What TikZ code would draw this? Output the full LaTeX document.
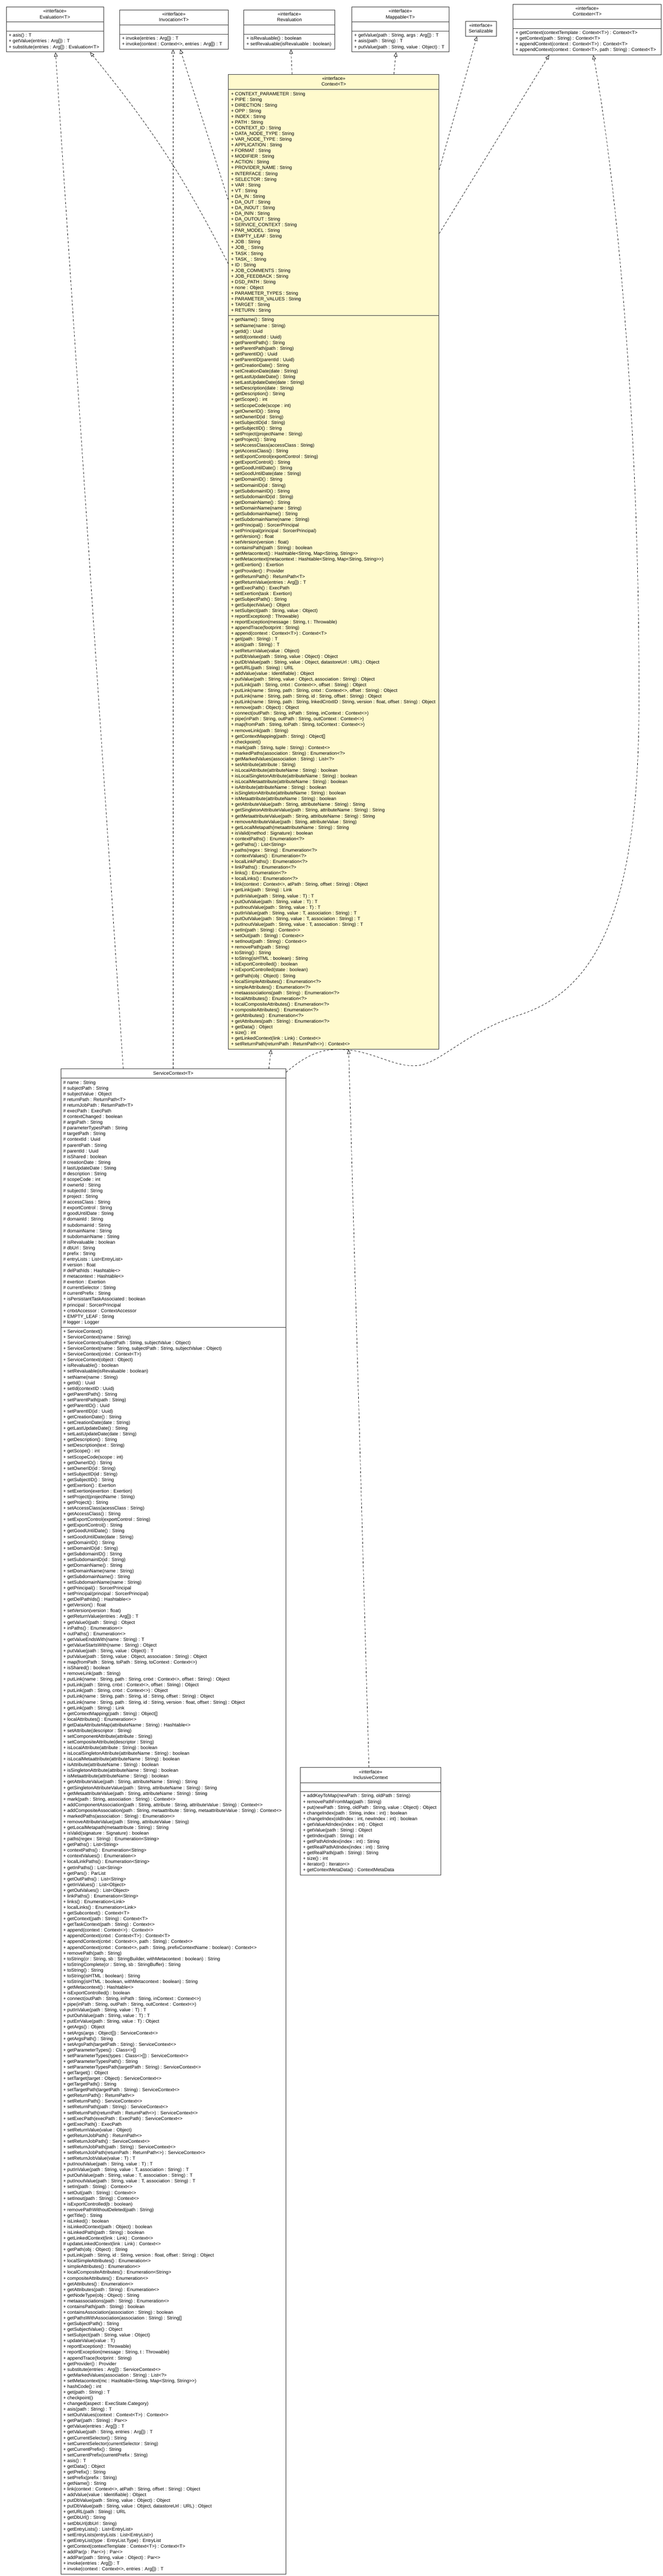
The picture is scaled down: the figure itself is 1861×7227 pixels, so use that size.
\documentclass[tikz,border=0pt]{standalone}
\usepackage{fontspec}
\newfontfamily\umlfont{Liberation Sans}
\usetikzlibrary{shapes.multipart, arrows.meta, positioning}
\definecolor{contextYellow}{RGB}{255, 250, 205}
\definecolor{borderGrey}{RGB}{60, 60, 60}
\newcommand{\umltext}{\umlfont\fontsize{13.2}{16}\selectfont}
\newcommand{\umlhead}[1]{\begin{tabular}{@{}c@{}}#1\end{tabular}}
\newcommand{\umlrows}[1]{\begin{tabular}{@{}l@{}}#1\end{tabular}}
\tikzset{
    % Base class box (header / attributes / operations)
    umlBox/.style={
        rectangle split,
        rectangle split parts=3,
        rectangle split part align={center, left, left},
        rectangle split empty part height=15pt,
        draw=borderGrey,
        line width=1.4pt,
        fill=white,
        inner xsep=7pt,
        inner ysep=4.5pt,
        anchor=north west,
        font=\umltext
    },
    % Specific box styles
    contextBox/.style={umlBox, fill=contextYellow},
    markerBox/.style={rectangle, draw=borderGrey, line width=1.4pt, fill=white,
        inner sep=0pt, anchor=north west, font=\umltext},
    % Realization connector
    realize/.style={line width=1pt, dash pattern=on 6pt off 5pt,
        -{Triangle[length=12pt, width=10pt, fill=white]}}
}

\begin{document}
\begin{tikzpicture}[x=1pt, y=-1pt]

    \useasboundingbox (0,0) rectangle (1861,7227);

    % --- TOP ROW (interfaces) ---

    % 1. Evaluation
    \node (evaluation) [umlBox, minimum width=273] at (17,19) {
        \umlhead{«interface»\\Evaluation<T>}
        \nodepart{two}\nodepart{three}
        \umlrows{+ asis() : T\\
        + getValue(entries : Arg[]) : T\\
        + substitute(entries : Arg[]) : Evaluation<T>}
    };

    % 2. Invocation
    \node (invocation) [umlBox, minimum width=305] at (335,27) {
        \umlhead{«interface»\\Invocation<T>}
        \nodepart{two}\nodepart{three}
        \umlrows{+ invoke(entries : Arg[]) : T\\
        + invoke(context : Context<>, entries : Arg[]) : T}
    };

    % 3. Revaluation
    \node (revaluation) [umlBox, minimum width=256] at (684,27) {
        \umlhead{«interface»\\Revaluation}
        \nodepart{two}\nodepart{three}
        \umlrows{+ isRevaluable() : boolean\\
        + setRevaluable(isRevaluable : boolean)}
    };

    % 4. Mappable
    \node (mappable) [umlBox, minimum width=273] at (987,19) {
        \umlhead{«interface»\\Mappable<T>}
        \nodepart{two}\nodepart{three}
        \umlrows{+ getValue(path : String, args : Arg[]) : T\\
        + asis(path : String) : T\\
        + putValue(path : String, value : Object) : T}
    };

    % 5. Serializable
    \node (serializable) [markerBox, minimum width=87, minimum height=42] at (1306,59) {
        \umlhead{«interface»\\Serializable}
    };

    % 6. Contexter
    \node (contexter) [umlBox, minimum width=416] at (1440,11) {
        \umlhead{«interface»\\Contexter<T>}
        \nodepart{two}\nodepart{three}
        \umlrows{+ getContext(contextTemplate : Context<T>) : Context<T>\\
        + getContext(path : String) : Context<T>\\
        + appendContext(context : Context<T>) : Context<T>\\
        + appendContext(context : Context<T>, path : String) : Context<T>}
    };

    % --- CENTRE (Context interface) ---
    \node (context) [contextBox, minimum width=591] at (641,208) {
        \umlhead{«interface»\\Context<T>}
        \nodepart{two}
        \umlrows{+ CONTEXT\_PARAMETER : String\\
        + PIPE : String\\
        + DIRECTION : String\\
        + OPP : String\\
        + INDEX : String\\
        + PATH : String\\
        + CONTEXT\_ID : String\\
        + DATA\_NODE\_TYPE : String\\
        + VAR\_NODE\_TYPE : String\\
        + APPLICATION : String\\
        + FORMAT : String\\
        + MODIFIER : String\\
        + ACTION : String\\
        + PROVIDER\_NAME : String\\
        + INTERFACE : String\\
        + SELECTOR : String\\
        + VAR : String\\
        + VT : String\\
        + DA\_IN : String\\
        + DA\_OUT : String\\
        + DA\_INOUT : String\\
        + DA\_ININ : String\\
        + DA\_OUTOUT : String\\
        + SERVICE\_CONTEXT : String\\
        + PAR\_MODEL : String\\
        + EMPTY\_LEAF : String\\
        + JOB : String\\
        + JOB\_ : String\\
        + TASK : String\\
        + TASK\_ : String\\
        + ID : String\\
        + JOB\_COMMENTS : String\\
        + JOB\_FEEDBACK : String\\
        + DSD\_PATH : String\\
        + none : Object\\
        + PARAMETER\_TYPES : String\\
        + PARAMETER\_VALUES : String\\
        + TARGET : String\\
        + RETURN : String}
        \nodepart{three}
        \umlrows{+ getName() : String\\
        + setName(name : String)\\
        + getId() : Uuid\\
        + setId(contextId : Uuid)\\
        + getParentPath() : String\\
        + setParentPath(path : String)\\
        + getParentID() : Uuid\\
        + setParentID(parentId : Uuid)\\
        + getCreationDate() : String\\
        + setCreationDate(date : String)\\
        + getLastUpdateDate() : String\\
        + setLastUpdateDate(date : String)\\
        + setDescription(date : String)\\
        + getDescription() : String\\
        + getScope() : int\\
        + setScopeCode(scope : int)\\
        + getOwnerID() : String\\
        + setOwnerID(id : String)\\
        + setSubjectID(id : String)\\
        + getSubjectID() : String\\
        + setProject(projectName : String)\\
        + getProject() : String\\
        + setAccessClass(accessClass : String)\\
        + getAccessClass() : String\\
        + setExportControl(exportControl : String)\\
        + getExportControl() : String\\
        + getGoodUntilDate() : String\\
        + setGoodUntilDate(date : String)\\
        + getDomainID() : String\\
        + setDomainID(id : String)\\
        + getSubdomainID() : String\\
        + setSubdomainID(id : String)\\
        + getDomainName() : String\\
        + setDomainName(name : String)\\
        + getSubdomainName() : String\\
        + setSubdomainName(name : String)\\
        + getPrincipal() : SorcerPrincipal\\
        + setPrincipal(principal : SorcerPrincipal)\\
        + getVersion() : float\\
        + setVersion(version : float)\\
        + containsPath(path : String) : boolean\\
        + getMetacontext() : Hashtable<String, Map<String, String>>\\
        + setMetacontext(metacontext : Hashtable<String, Map<String, String>>)\\
        + getExertion() : Exertion\\
        + getProvider() : Provider\\
        + getReturnPath() : ReturnPath<T>\\
        + getReturnValue(entries : Arg[]) : T\\
        + getExecPath() : ExecPath\\
        + setExertion(task : Exertion)\\
        + getSubjectPath() : String\\
        + getSubjectValue() : Object\\
        + setSubject(path : String, value : Object)\\
        + reportException(t : Throwable)\\
        + reportException(message : String, t : Throwable)\\
        + appendTrace(footprint : String)\\
        + append(context : Context<T>) : Context<T>\\
        + get(path : String) : T\\
        + asis(path : String) : T\\
        + setReturnValue(value : Object)\\
        + putDbValue(path : String, value : Object) : Object\\
        + putDbValue(path : String, value : Object, datastoreUrl : URL) : Object\\
        + getURL(path : String) : URL\\
        + addValue(value : Identifiable) : Object\\
        + putValue(path : String, value : Object, association : String) : Object\\
        + putLink(path : String, cntxt : Context<>, offset : String) : Object\\
        + putLink(name : String, path : String, cntxt : Context<>, offset : String) : Object\\
        + putLink(name : String, path : String, id : String, offset : String) : Object\\
        + putLink(name : String, path : String, lnkedCntxtID : String, version : float, offset : String) : Object\\
        + remove(path : Object) : Object\\
        + connect(outPath : String, inPath : String, inContext : Context<>)\\
        + pipe(inPath : String, outPath : String, outContext : Context<>)\\
        + map(fromPath : String, toPath : String, toContext : Context<>)\\
        + removeLink(path : String)\\
        + getContextMapping(path : String) : Object[]\\
        + checkpoint()\\
        + mark(path : String, tuple : String) : Context<>\\
        + markedPaths(association : String) : Enumeration<?>\\
        + getMarkedValues(association : String) : List<?>\\
        + setAttribute(attribute : String)\\
        + isLocalAttribute(attributeName : String) : boolean\\
        + isLocalSingletonAttribute(attributeName : String) : boolean\\
        + isLocalMetaattribute(attributeName : String) : boolean\\
        + isAttribute(attributeName : String) : boolean\\
        + isSingletonAttribute(attributeName : String) : boolean\\
        + isMetaattribute(attributeName : String) : boolean\\
        + getAttributeValue(path : String, attributeName : String) : String\\
        + getSingletonAttributeValue(path : String, attributeName : String) : String\\
        + getMetaattributeValue(path : String, attributeName : String) : String\\
        + removeAttributeValue(path : String, attributeValue : String)\\
        + getLocalMetapath(metaattributeName : String) : String\\
        + isValid(method : Signature) : boolean\\
        + contextPaths() : Enumeration<?>\\
        + getPaths() : List<String>\\
        + paths(regex : String) : Enumeration<?>\\
        + contextValues() : Enumeration<?>\\
        + localLinkPaths() : Enumeration<?>\\
        + linkPaths() : Enumeration<?>\\
        + links() : Enumeration<?>\\
        + localLinks() : Enumeration<?>\\
        + link(context : Context<>, atPath : String, offset : String) : Object\\
        + getLink(path : String) : Link\\
        + putInValue(path : String, value : T) : T\\
        + putOutValue(path : String, value : T) : T\\
        + putInoutValue(path : String, value : T) : T\\
        + putInValue(path : String, value : T, association : String) : T\\
        + putOutValue(path : String, value : T, association : String) : T\\
        + putInoutValue(path : String, value : T, association : String) : T\\
        + setIn(path : String) : Context<>\\
        + setOut(path : String) : Context<>\\
        + setInout(path : String) : Context<>\\
        + removePath(path : String)\\
        + toString() : String\\
        + toString(isHTML : boolean) : String\\
        + isExportControlled() : boolean\\
        + isExportControlled(state : boolean)\\
        + getPath(obj : Object) : String\\
        + localSimpleAttributes() : Enumeration<?>\\
        + simpleAttributes() : Enumeration<?>\\
        + metaassociations(path : String) : Enumeration<?>\\
        + localAttributes() : Enumeration<?>\\
        + localCompositeAttributes() : Enumeration<?>\\
        + compositeAttributes() : Enumeration<?>\\
        + getAttributes() : Enumeration<?>\\
        + getAttributes(path : String) : Enumeration<?>\\
        + getData() : Object\\
        + size() : int\\
        + getLinkedContext(link : Link) : Context<>\\
        + setReturnPath(returnPath : ReturnPath<>) : Context<>}
    };

    % --- BOTTOM LEFT (implementation) ---
    \node (serviceContext) [umlBox, minimum width=632] at (170,2998) {
        \umlhead{ServiceContext<T>}
        \nodepart{two}
        \umlrows{\# name : String\\
        \# subjectPath : String\\
        \# subjectValue : Object\\
        \# returnPath : ReturnPath<T>\\
        \# returnJobPath : ReturnPath<T>\\
        \# execPath : ExecPath\\
        \# contextChanged : boolean\\
        \# argsPath : String\\
        \# parameterTypesPath : String\\
        \# targetPath : String\\
        \# contextId : Uuid\\
        \# parentPath : String\\
        \# parentId : Uuid\\
        \# isShared : boolean\\
        \# creationDate : String\\
        \# lastUpdateDate : String\\
        \# description : String\\
        \# scopeCode : int\\
        \# ownerId : String\\
        \# subjectId : String\\
        \# project : String\\
        \# accessClass : String\\
        \# exportControl : String\\
        \# goodUntilDate : String\\
        \# domainId : String\\
        \# subdomainId : String\\
        \# domainName : String\\
        \# subdomainName : String\\
        \# isRevaluable : boolean\\
        \# dbUrl : String\\
        \# prefix : String\\
        \# entryLists : List<EntryList>\\
        \# version : float\\
        \# delPathIds : Hashtable<>\\
        \# metacontext : Hashtable<>\\
        \# exertion : Exertion\\
        \# currentSelector : String\\
        \# currentPrefix : String\\
        + isPersistantTaskAssociated : boolean\\
        \# principal : SorcerPrincipal\\
        + cntxtAccessor : ContextAccessor\\
        + EMPTY\_LEAF : String\\
        \# logger : Logger}
        \nodepart{three}
        \umlrows{+ ServiceContext()\\
        + ServiceContext(name : String)\\
        + ServiceContext(subjectPath : String, subjectValue : Object)\\
        + ServiceContext(name : String, subjectPath : String, subjectValue : Object)\\
        + ServiceContext(cntxt : Context<T>)\\
        + ServiceContext(object : Object)\\
        + isRevaluable() : boolean\\
        + setRevaluable(isRevaluable : boolean)\\
        + setName(name : String)\\
        + getId() : Uuid\\
        + setId(contextID : Uuid)\\
        + getParentPath() : String\\
        + setParentPath(path : String)\\
        + getParentID() : Uuid\\
        + setParentID(id : Uuid)\\
        + getCreationDate() : String\\
        + setCreationDate(date : String)\\
        + getLastUpdateDate() : String\\
        + setLastUpdateDate(date : String)\\
        + getDescription() : String\\
        + setDescription(text : String)\\
        + getScope() : int\\
        + setScopeCode(scope : int)\\
        + getOwnerID() : String\\
        + setOwnerID(id : String)\\
        + setSubjectID(id : String)\\
        + getSubjectID() : String\\
        + getExertion() : Exertion\\
        + setExertion(exertion : Exertion)\\
        + setProject(projectName : String)\\
        + getProject() : String\\
        + setAccessClass(acessClass : String)\\
        + getAccessClass() : String\\
        + setExportControl(exportControl : String)\\
        + getExportControl() : String\\
        + getGoodUntilDate() : String\\
        + setGoodUntilDate(date : String)\\
        + getDomainID() : String\\
        + setDomainID(id : String)\\
        + getSubdomainID() : String\\
        + setSubdomainID(id : String)\\
        + getDomainName() : String\\
        + setDomainName(name : String)\\
        + getSubdomainName() : String\\
        + setSubdomainName(name : String)\\
        + getPrincipal() : SorcerPrincipal\\
        + setPrincipal(principal : SorcerPrincipal)\\
        + getDelPathIds() : Hashtable<>\\
        + getVersion() : float\\
        + setVersion(version : float)\\
        + getReturnValue(entries : Arg[]) : T\\
        + getValue0(path : String) : Object\\
        + inPaths() : Enumeration<>\\
        + outPaths() : Enumeration<>\\
        + getValueEndsWith(name : String) : T\\
        + getValueStartsWith(name : String) : Object\\
        + putValue(path : String, value : Object) : T\\
        + putValue(path : String, value : Object, association : String) : Object\\
        + map(fromPath : String, toPath : String, toContext : Context<>)\\
        + isShared() : boolean\\
        + removeLink(path : String)\\
        + putLink(name : String, path : String, cntxt : Context<>, offset : String) : Object\\
        + putLink(path : String, cntxt : Context<>, offset : String) : Object\\
        + putLink(path : String, cntxt : Context<>) : Object\\
        + putLink(name : String, path : String, id : String, offset : String) : Object\\
        + putLink(name : String, path : String, id : String, version : float, offset : String) : Object\\
        + getLink(path : String) : Link\\
        + getContextMapping(path : String) : Object[]\\
        + localAttributes() : Enumeration<>\\
        \# getDataAttributeMap(attributeName : String) : Hashtable<>\\
        + setAttribute(descriptor : String)\\
        + setComponentAttribute(attribute : String)\\
        + setCompositeAttribute(descriptor : String)\\
        + isLocalAttribute(attribute : String) : boolean\\
        + isLocalSingletonAttribute(attributeName : String) : boolean\\
        + isLocalMetaattribute(attributeName : String) : boolean\\
        + isAttribute(attributeName : String) : boolean\\
        + isSingletonAttribute(attributeName : String) : boolean\\
        + isMetaattribute(attributeName : String) : boolean\\
        + getAttributeValue(path : String, attributeName : String) : String\\
        + getSingletonAttributeValue(path : String, attributeName : String) : String\\
        + getMetaattributeValue(path : String, attributeName : String) : String\\
        + mark(path : String, association : String) : Context<>\\
        + addComponentAssociation(path : String, attribute : String, attributeValue : String) : Context<>\\
        + addCompositeAssociation(path : String, metaattribute : String, metaattributeValue : String) : Context<>\\
        + markedPaths(association : String) : Enumeration<>\\
        + removeAttributeValue(path : String, attributeValue : String)\\
        + getLocalMetapath(metaattribute : String) : String\\
        + isValid(signature : Signature) : boolean\\
        + paths(regex : String) : Enumeration<String>\\
        + getPaths() : List<String>\\
        + contextPaths() : Enumeration<String>\\
        + contextValues() : Enumeration<>\\
        + localLinkPaths() : Enumeration<String>\\
        + getInPaths() : List<String>\\
        + getPars() : ParList\\
        + getOutPaths() : List<String>\\
        + getInValues() : List<Object>\\
        + getOutValues() : List<Object>\\
        + linkPaths() : Enumeration<String>\\
        + links() : Enumeration<Link>\\
        + localLinks() : Enumeration<Link>\\
        + getSubcontext() : Context<T>\\
        + getContext(path : String) : Context<T>\\
        + getTaskContext(path : String) : Context<>\\
        + append(context : Context<>) : Context<>\\
        + appendContext(cntxt : Context<T>) : Context<T>\\
        + appendContext(cntxt : Context<>, path : String) : Context<>\\
        + appendContext(cntxt : Context<>, path : String, prefixContextName : boolean) : Context<>\\
        + removePath(path : String)\\
        + toString(cr : String, sb : StringBuilder, withMetacontext : boolean) : String\\
        + toStringComplete(cr : String, sb : StringBuffer) : String\\
        + toString() : String\\
        + toString(isHTML : boolean) : String\\
        + toString(isHTML : boolean, withMetacontext : boolean) : String\\
        + getMetacontext() : Hashtable<>\\
        + isExportControlled() : boolean\\
        + connect(outPath : String, inPath : String, inContext : Context<>)\\
        + pipe(inPath : String, outPath : String, outContext : Context<>)\\
        + putInValue(path : String, value : T) : T\\
        + putOutValue(path : String, value : T) : T\\
        + putErrValue(path : String, value : T) : Object\\
        + getArgs() : Object\\
        + setArgs(args : Object[]) : ServiceContext<>\\
        + getArgsPath() : String\\
        + setArgsPath(targetPath : String) : ServiceContext<>\\
        + getParameterTypes() : Class<>[]\\
        + setParameterTypes(types : Class<>[]) : ServiceContext<>\\
        + getParameterTypesPath() : String\\
        + setParameterTypesPath(targetPath : String) : ServiceContext<>\\
        + getTarget() : Object\\
        + setTarget(target : Object) : ServiceContext<>\\
        + getTargetPath() : String\\
        + setTargetPath(targetPath : String) : ServiceContext<>\\
        + getReturnPath() : ReturnPath<>\\
        + setReturnPath() : ServiceContext<>\\
        + setReturnPath(path : String) : ServiceContext<>\\
        + setReturnPath(returnPath : ReturnPath<>) : ServiceContext<>\\
        + setExecPath(execPath : ExecPath) : ServiceContext<>\\
        + getExecPath() : ExecPath\\
        + setReturnValue(value : Object)\\
        + getReturnJobPath() : ReturnPath<>\\
        + setReturnJobPath() : ServiceContext<>\\
        + setReturnJobPath(path : String) : ServiceContext<>\\
        + setReturnJobPath(returnPath : ReturnPath<>) : ServiceContext<>\\
        + setReturnJobValue(value : T) : T\\
        + putInoutValue(path : String, value : T) : T\\
        + putInValue(path : String, value : T, association : String) : T\\
        + putOutValue(path : String, value : T, association : String) : T\\
        + putInoutValue(path : String, value : T, association : String) : T\\
        + setIn(path : String) : Context<>\\
        + setOut(path : String) : Context<>\\
        + setInout(path : String) : Context<>\\
        + isExportControlled(b : boolean)\\
        + removePathWithoutDeleted(path : String)\\
        + getTitle() : String\\
        + isLinked() : boolean\\
        + isLinkedContext(path : Object) : boolean\\
        + isLinkedPath(path : String) : boolean\\
        + getLinkedContext(link : Link) : Context<>\\
        \# updateLinkedContext(link : Link) : Context<>\\
        + getPath(obj : Object) : String\\
        + putLink(path : String, id : String, version : float, offset : String) : Object\\
        + localSimpleAttributes() : Enumeration<>\\
        + simpleAttributes() : Enumeration<>\\
        + localCompositeAttributes() : Enumeration<String>\\
        + compositeAttributes() : Enumeration<>\\
        + getAttributes() : Enumeration<>\\
        + getAttributes(path : String) : Enumeration<>\\
        + getNodeType(obj : Object) : String\\
        + metaassociations(path : String) : Enumeration<>\\
        + containsPath(path : String) : boolean\\
        + containsAssociation(association : String) : boolean\\
        + getPathsWithAssociation(association : String) : String[]\\
        + getSubjectPath() : String\\
        + getSubjectValue() : Object\\
        + setSubject(path : String, value : Object)\\
        + updateValue(value : T)\\
        + reportException(t : Throwable)\\
        + reportException(message : String, t : Throwable)\\
        + appendTrace(footprint : String)\\
        + getProvider() : Provider\\
        + substitute(entries : Arg[]) : ServiceContext<>\\
        + getMarkedValues(association : String) : List<?>\\
        + setMetacontext(mc : Hashtable<String, Map<String, String>>)\\
        + hashCode() : int\\
        + get(path : String) : T\\
        + checkpoint()\\
        + changed(aspect : ExecState.Category)\\
        + asis(path : String) : T\\
        + setOutValues(context : Context<T>) : Context<>\\
        + getPar(path : String) : Par<>\\
        + getValue(entries : Arg[]) : T\\
        + getValue(path : String, entries : Arg[]) : T\\
        + getCurrentSelector() : String\\
        + setCurrentSelector(currentSelector : String)\\
        + getCurrentPrefix() : String\\
        + setCurrentPrefix(currentPrefix : String)\\
        + asis() : T\\
        + getData() : Object\\
        + getPrefix() : String\\
        + setPrefix(prefix : String)\\
        + getName() : String\\
        + link(context : Context<>, atPath : String, offset : String) : Object\\
        + addValue(value : Identifiable) : Object\\
        + putDbValue(path : String, value : Object) : Object\\
        + putDbValue(path : String, value : Object, datastoreUrl : URL) : Object\\
        + getURL(path : String) : URL\\
        + getDbUrl() : String\\
        + setDbUrl(dbUrl : String)\\
        + getEntryLists() : List<EntryList>\\
        + setEntryLists(entryLists : List<EntryList>)\\
        + getEntryList(type : EntryList.Type) : EntryList\\
        + getContext(contextTemplate : Context<T>) : Context<T>\\
        + addPar(p : Par<>) : Par<>\\
        + addPar(path : String, value : Object) : Par<>\\
        + invoke(entries : Arg[]) : T\\
        + invoke(context : Context<>, entries : Arg[]) : T}
    };

    % --- BOTTOM RIGHT (sub-interface) ---
    \node (inclusiveContext) [umlBox, minimum width=394] at (843,4958) {
        \umlhead{«interface»\\InclusiveContext}
        \nodepart{two}\nodepart{three}
        \umlrows{+ addKeyToMap(newPath : String, oldPath : String)\\
        + removePathFromMap(path : String)\\
        + put(newPath : String, oldPath : String, value : Object) : Object\\
        + changeIndex(path : String, index : int) : boolean\\
        + changeIndex(oldIndex : int, newIndex : int) : boolean\\
        + getValueAtIndex(index : int) : Object\\
        + getValue(path : String) : Object\\
        + getIndex(path : String) : int\\
        + getPathAtIndex(index : int) : String\\
        + getRealPathAtIndex(index : int) : String\\
        + getRealPath(path : String) : String\\
        + size() : int\\
        + iterator() : Iterator<>\\
        + getContextMetaData() : ContextMetaData}
    };

    % --- Realizations of Context ---
    \draw [realize] ([yshift=-532]context.north west) to[bend right=6] ([xshift=236]evaluation.south west);
    \draw [realize] ([yshift=-353]context.north west) -- ([xshift=171]invocation.south west);
    \draw [realize] ([xshift=179]context.north west) -- ([xshift=133]revaluation.south west);
    \draw [realize] ([xshift=465]context.north west) -- ([xshift=125]mappable.south west);
    \draw [realize] ([yshift=-268]context.north east) -- ([xshift=33]serializable.south west);
    \draw [realize] ([yshift=-447]context.north east) -- ([xshift=102]contexter.south west);

    % --- Realizations of ServiceContext ---
    \draw [realize] ([xshift=176]serviceContext.north west) -- ([xshift=139]evaluation.south west);
    \draw [realize] ([xshift=316]serviceContext.north west) -- ([xshift=151]invocation.south west);
    \draw [realize] ([xshift=585]serviceContext.north west) -- ([xshift=120]context.south west);
    \draw [realize] ([yshift=-10]serviceContext.north east)
        .. controls (860,2960) and (900,2944) .. (950,2944)
        .. controls (1040,2944) and (1100,2992) .. (1165,2990)
        .. controls (1230,2990) and (1300,2900) .. (1450,2850)
        .. controls (1650,2790) and (1790,2600) .. (1794,2000)
        .. controls (1798,1200) and (1730,500) .. ([xshift=226]contexter.south west);

    % --- InclusiveContext extends Context ---
    \draw [realize] ([xshift=193]inclusiveContext.north west) -- ([xshift=338]context.south west);

\end{tikzpicture}
\end{document}
